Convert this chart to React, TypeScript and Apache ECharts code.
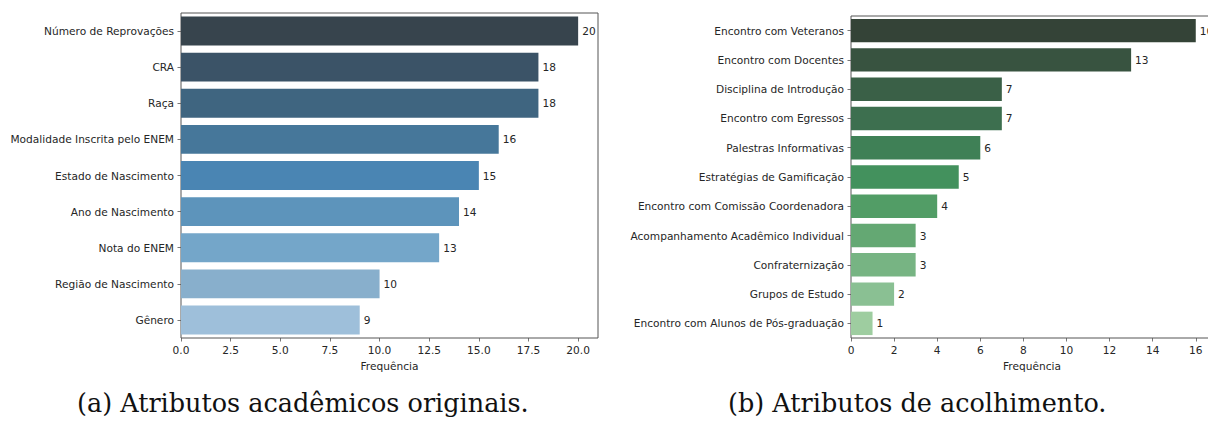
import React, { useEffect, useRef } from "react";
import * as echarts from "echarts";

// (a) academic attributes
const academicNames = [
  "Número de Reprovações",
  "CRA",
  "Raça",
  "Modalidade Inscrita pelo ENEM",
  "Estado de Nascimento",
  "Ano de Nascimento",
  "Nota do ENEM",
  "Região de Nascimento",
  "Gênero",
];
const academicValues = [20, 18, 18, 16, 15, 14, 13, 10, 9];
const academicColors = [
  "#37444d",
  "#3b5367",
  "#3f6580",
  "#46779a",
  "#4a85b3",
  "#5d94bb",
  "#74a6c9",
  "#88afcc",
  "#9ebfda",
];
const academicTicks = [0, 2.5, 5, 7.5, 10, 12.5, 15, 17.5, 20];

// (b) welcoming attributes
const welcomeNames = [
  "Encontro com Veteranos",
  "Encontro com Docentes",
  "Disciplina de Introdução",
  "Encontro com Egressos",
  "Palestras Informativas",
  "Estratégias de Gamificação",
  "Encontro com Comissão Coordenadora",
  "Acompanhamento Acadêmico Individual",
  "Confraternização",
  "Grupos de Estudo",
  "Encontro com Alunos de Pós-graduação",
];
const welcomeValues = [16, 13, 7, 7, 6, 5, 4, 3, 3, 2, 1];
const welcomeColors = [
  "#344337",
  "#385340",
  "#3a6047",
  "#3d6f4f",
  "#3f8056",
  "#43915d",
  "#529d66",
  "#64a873",
  "#77b483",
  "#8ac093",
  "#9ecda0",
];
const welcomeTicks = [0, 2, 4, 6, 8, 10, 12, 14, 16];

const captions = ["(a) Atributos acadêmicos originais.", "(b) Atributos de acolhimento."];
const axisTitle = "Frequência";

const FONT = "'DejaVu Sans', sans-serif";
const FS = 10.6;
const TEXT = "#262626";
const SPINE = "#555555";

function valueAxis(gridIndex: number, max: number, ticks: number[], decimals: number) {
  return {
    type: "value",
    gridIndex,
    min: 0,
    max,
    name: axisTitle,
    nameLocation: "middle",
    nameGap: 22,
    nameTextStyle: { fontFamily: FONT, fontSize: FS, color: TEXT },
    axisLine: { show: false },
    axisTick: {
      show: true,
      length: 3.5,
      customValues: ticks,
      lineStyle: { color: SPINE, width: 0.8 },
    },
    axisLabel: {
      customValues: ticks,
      margin: 6,
      fontFamily: FONT,
      fontSize: FS,
      color: TEXT,
      formatter: (v: number) => v.toFixed(decimals),
    },
    splitLine: { show: false },
  };
}

function categoryAxis(gridIndex: number, names: string[]) {
  return {
    type: "category",
    gridIndex,
    data: names,
    inverse: true,
    axisLine: { show: false },
    axisTick: {
      show: true,
      alignWithLabel: true,
      length: 3.5,
      lineStyle: { color: SPINE, width: 0.8 },
    },
    axisLabel: { margin: 7, fontFamily: FONT, fontSize: FS, color: TEXT },
  };
}

function barSeries(index: number, values: number[], colors: string[]) {
  return {
    type: "bar",
    xAxisIndex: index,
    yAxisIndex: index,
    barWidth: "80%",
    data: values.map((v, i) => ({ value: v, itemStyle: { color: colors[i] } })),
    label: {
      show: true,
      position: "right",
      distance: 4,
      fontFamily: FONT,
      fontSize: FS,
      color: TEXT,
    },
  };
}

export default function App() {
  const ref = useRef<HTMLDivElement>(null);

  useEffect(() => {
    if (!ref.current) return;
    const chart = echarts.init(ref.current, undefined, { renderer: "svg" });
    const gridBox = {
      show: true,
      borderColor: SPINE,
      borderWidth: 1,
      backgroundColor: "transparent",
      containLabel: false,
      outerBoundsMode: "none",
    };
    const captionFont = "25.5px 'DejaVu Serif', serif";
    chart.setOption({
      animation: false,
      backgroundColor: "#ffffff",
      grid: [
        { ...gridBox, left: 181, top: 13, width: 417, height: 325 },
        { ...gridBox, left: 851, top: 16, width: 362, height: 322 },
      ],
      xAxis: [
        valueAxis(0, 21, academicTicks, 1),
        valueAxis(1, 16.8, welcomeTicks, 0),
      ],
      yAxis: [categoryAxis(0, academicNames), categoryAxis(1, welcomeNames)],
      series: [
        barSeries(0, academicValues, academicColors),
        barSeries(1, welcomeValues, welcomeColors),
      ],
      graphic: [
        {
          type: "text",
          left: 77,
          top: 390,
          style: { text: captions[0], font: captionFont, fill: "#111111" },
        },
        {
          type: "text",
          left: 728,
          top: 390,
          style: { text: captions[1], font: captionFont, fill: "#111111" },
        },
      ],
    });
    return () => chart.dispose();
  }, []);

  return (
    <div
      ref={ref}
      style={{ position: "absolute", left: 0, top: 0, width: 1208, height: 423 }}
    />
  );
}
